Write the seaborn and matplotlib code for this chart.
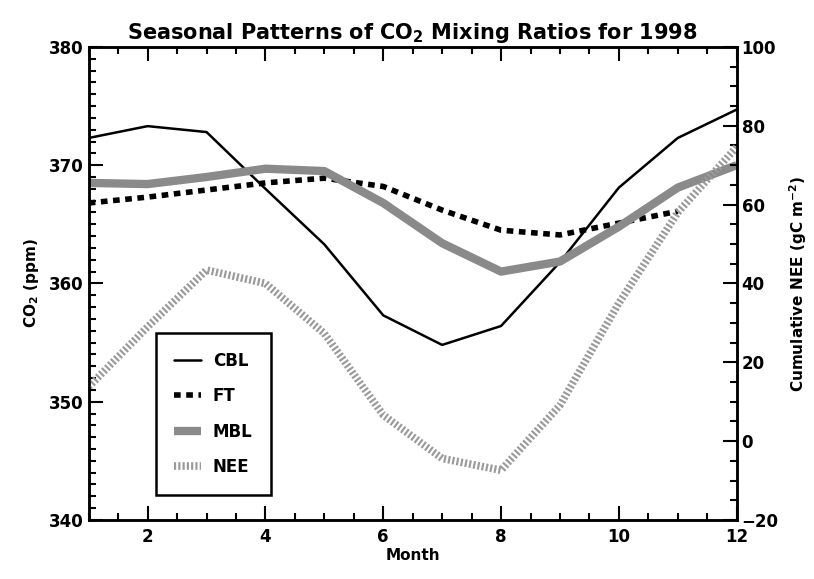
import numpy as np
import pandas as pd
import matplotlib
matplotlib.use("Agg")
import matplotlib.pyplot as plt
import seaborn as sns
from matplotlib.ticker import MultipleLocator

months = list(range(1, 13))
cbl = [372.3, 373.3, 372.8, 368.0, 363.3, 357.3, 354.8, 356.4, 361.8, 368.1, 372.3, 374.7]
ft = [366.8, 367.3, 367.9, 368.5, 368.9, 368.2, 366.2, 364.5, 364.1, 365.1, 366.1, np.nan]
mbl = [368.5, 368.4, 369.0, 369.7, 369.5, 366.8, 363.4, 361.0, 361.85, 364.8, 368.1, 370.0]
nee = [13.8, 29.0, 43.4, 40.0, 27.3, 6.6, -4.4, -7.4, 9.1, 35.0, 58.0, 74.6]

sns.set_theme(style="white")
plt.rcParams['font.family'] = ['DejaVu Sans']
plt.rcParams['font.weight'] = 'bold'
plt.rcParams['axes.labelweight'] = 'bold'
plt.rcParams['axes.titleweight'] = 'bold'
for k in ('text.color', 'axes.labelcolor', 'xtick.color', 'ytick.color'):
    plt.rcParams[k] = 'black'

df = pd.DataFrame({"Month": months, "CBL": cbl, "FT": ft, "MBL": mbl, "NEE": nee})

fig = plt.figure(figsize=(8.14, 5.79), dpi=100)
ax = fig.add_axes([0.109, 0.102, 0.796, 0.817])
ax2 = ax.twinx()

# CO2 lines on left axis
sns.lineplot(data=df, x="Month", y="CBL", ax=ax, color="black", lw=1.8, label="CBL", legend=False)
sns.lineplot(data=df.dropna(), x="Month", y="FT", ax=ax, color="black", lw=4, label="FT", legend=False)
ax.lines[-1].set_dashes([1.2, 1.0])
sns.lineplot(data=df, x="Month", y="MBL", ax=ax, color="#8a8a8a", lw=6, label="MBL", legend=False)
ax.lines[-1].set_solid_capstyle("butt")

# NEE on right axis, hatched look
sns.lineplot(data=df, x="Month", y="NEE", ax=ax2, color="#9a9a9a", lw=5.5, label="NEE", legend=False)
ax2.lines[-1].set_dashes([0.28, 0.28])
ax2.lines[-1].set_dash_capstyle("butt")

ax.set_xlim(1, 12)
ax.set_ylim(340, 380)
ax2.set_ylim(-20, 100)

ax.xaxis.set_major_locator(MultipleLocator(2))
ax.xaxis.set_minor_locator(MultipleLocator(0.5))
ax.yaxis.set_major_locator(MultipleLocator(10))
ax.yaxis.set_minor_locator(MultipleLocator(1))
ax2.yaxis.set_major_locator(MultipleLocator(20))
ax2.yaxis.set_minor_locator(MultipleLocator(5))

ax.tick_params(axis="x", which="both", direction="in", top=True, bottom=True, labelsize=12, width=1.5, pad=6)
ax.tick_params(axis="x", which="major", length=10)
ax.tick_params(axis="x", which="minor", length=5)
ax.tick_params(axis="y", which="both", direction="in", left=True, right=False, labelsize=12, width=1.5)
ax.tick_params(axis="y", which="major", length=10)
ax.tick_params(axis="y", which="minor", length=5)
ax2.tick_params(axis="y", which="both", direction="in", right=True, labelsize=12, width=1.5)
ax2.tick_params(axis="y", which="major", length=10)
ax2.tick_params(axis="y", which="minor", length=5)

for a in (ax, ax2):
    for s in a.spines.values():
        s.set_linewidth(1.8)
        s.set_color("black")

ax.set_xlabel("Month", fontsize=11, labelpad=1)
ax.set_ylabel("CO$_2$ (ppm)", fontsize=11, labelpad=6)
ax2.set_ylabel("Cumulative NEE (gC m$^{-2}$)", fontsize=11, labelpad=6)
ax.set_title("Seasonal Patterns of CO$_\\mathbf{2}$ Mixing Ratios for 1998", fontsize=15, pad=6)

handles = ax.lines[:3] + ax2.lines[:1]
leg = ax.legend(handles, ["CBL", "FT", "MBL", "NEE"], loc="lower left",
                bbox_to_anchor=(0.091, 0.036), fancybox=False, framealpha=1,
                edgecolor="black", fontsize=12, handlelength=1.6, labelspacing=1.05,
                borderpad=1.1, handletextpad=0.7)
leg.get_frame().set_linewidth(1.8)

fig.savefig("out.png", dpi=100)
